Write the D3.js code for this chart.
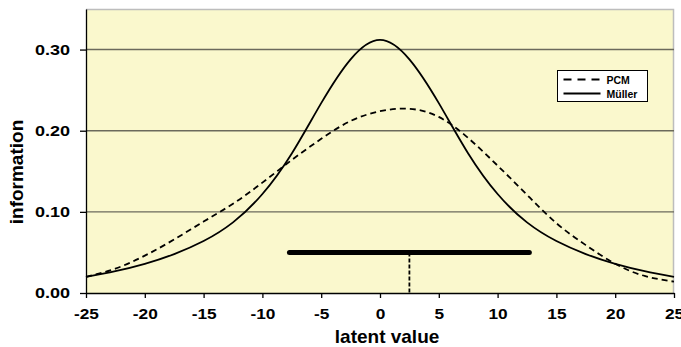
<!DOCTYPE html>
<html>
<head>
<meta charset="utf-8">
<script src="https://cdn.jsdelivr.net/npm/d3@7"></script>
<style>
    body { margin: 0; background: #fff; }
    svg { display: block; font-family: "Liberation Sans", Arial, sans-serif; font-weight: bold; }
</style>
</head>
<body>
<svg id="chart" width="681" height="347"></svg>
<script>
const latentX = [-25, -22.5, -20, -17.5, -15, -12.5, -10, -7.5, -5, -2.5, 0,
    2.5, 5, 7.5, 10, 12.5, 15, 17.5, 20, 22.5, 25];

// information curves
const pcmInfo = [0.020, 0.030, 0.046, 0.066, 0.088, 0.110, 0.136, 0.164, 0.190, 0.212, 0.224,
    0.227, 0.217, 0.191, 0.157, 0.121, 0.086, 0.059, 0.036, 0.021, 0.014];
const mullerInfo = [0.020, 0.027, 0.036, 0.048, 0.064, 0.087, 0.122, 0.172, 0.234, 0.288, 0.312,
    0.288, 0.234, 0.172, 0.122, 0.087, 0.064, 0.048, 0.036, 0.027, 0.020];

// range bar and its marker
const barRange = [-7.7, 12.7];
const barLevel = 0.05;
const markerX = 2.5;

const xTicks = [-25, -20, -15, -10, -5, 0, 5, 10, 15, 20, 25];
const yTicks = [0, 0.1, 0.2, 0.3];
const legendNames = ["PCM", "Müller"];

const margin = { top: 9, right: 7, bottom: 54, left: 86 },
    width = 681 - margin.left - margin.right,
    height = 347 - margin.top - margin.bottom;

const svg = d3.select("#chart");
const g = svg.append("g")
    .attr("transform", "translate(" + margin.left + "," + margin.top + ")");

const x = d3.scaleLinear().domain([-25, 25]).range([0, width]);
const y = d3.scaleLinear().domain([0, 0.35]).range([height, 0]);

// plot area
g.append("rect")
    .attr("width", width)
    .attr("height", height)
    .attr("fill", "#faf8cd");

// top and right border
g.append("path")
    .attr("d", "M0,0.5H" + (width - 0.5) + "V" + height)
    .attr("fill", "none")
    .attr("stroke", "#bdbdbd")
    .attr("stroke-width", 1.5);

// gridlines
g.selectAll(".grid")
    .data(yTicks.filter(d => d > 0))
    .enter().append("line")
    .attr("class", "grid")
    .attr("x1", 0).attr("x2", width)
    .attr("y1", d => y(d)).attr("y2", d => y(d))
    .attr("stroke", "#6b6a5c")
    .attr("stroke-width", 1.4);

// stretch tick labels a bit wider like the original
function widen(sel, k) {
    sel.each(function () {
        const w = this.getComputedTextLength();
        d3.select(this).attr("textLength", w * k).attr("lengthAdjust", "spacingAndGlyphs");
    });
}

const yAxis = g.append("g")
    .call(d3.axisLeft(y).tickValues(yTicks).tickFormat(d3.format(".2f")).tickSize(6).tickPadding(10).tickSizeOuter(0));
yAxis.selectAll(".tick text")
    .attr("font-size", 15).attr("font-weight", "bold").attr("font-family", "Liberation Sans, Arial, sans-serif")
    .attr("fill", "#000")
    .call(widen, 1.2);
yAxis.selectAll("line, .domain").attr("stroke", "#000").attr("stroke-width", 1.3);

const xAxis = g.append("g")
    .attr("transform", "translate(0," + height + ")")
    .call(d3.axisBottom(x).tickValues(xTicks).tickFormat(d => String(d)).tickSize(5).tickPadding(10).tickSizeOuter(0));
xAxis.selectAll(".tick text")
    .attr("font-size", 15).attr("font-weight", "bold").attr("font-family", "Liberation Sans, Arial, sans-serif")
    .attr("fill", "#000")
    .call(widen, 1.15);
xAxis.selectAll("line, .domain").attr("stroke", "#000").attr("stroke-width", 1.3);

// axis titles
g.append("text")
    .attr("x", x(0.6))
    .attr("y", height + 50)
    .attr("text-anchor", "middle")
    .attr("font-size", 19)
    .text("latent value");

g.append("text")
    .attr("transform", "translate(" + (23 - margin.left) + "," + (172 - margin.top) + ") rotate(-90)")
    .attr("text-anchor", "middle")
    .attr("font-size", 19)
    .text("information");

// curves
const line = d3.line()
    .x(d => x(d[0]))
    .y(d => y(d[1]))
    .curve(d3.curveNatural);

g.append("path")
    .datum(latentX.map((v, i) => [v, pcmInfo[i]]))
    .attr("d", line)
    .attr("fill", "none")
    .attr("stroke", "#000")
    .attr("stroke-width", 1.8)
    .attr("stroke-dasharray", "6,4");

g.append("path")
    .datum(latentX.map((v, i) => [v, mullerInfo[i]]))
    .attr("d", line)
    .attr("fill", "none")
    .attr("stroke", "#000")
    .attr("stroke-width", 1.8);

// range bar
g.append("line")
    .attr("x1", x(barRange[0])).attr("x2", x(barRange[1]))
    .attr("y1", y(barLevel)).attr("y2", y(barLevel))
    .attr("stroke", "#000")
    .attr("stroke-width", 5)
    .attr("stroke-linecap", "round");

g.append("line")
    .attr("x1", x(markerX)).attr("x2", x(markerX))
    .attr("y1", y(barLevel)).attr("y2", y(0))
    .attr("stroke", "#000")
    .attr("stroke-width", 1.8)
    .attr("stroke-dasharray", "4,2");

// legend
const legend = svg.append("g").attr("transform", "translate(557.5,70.5)");
legend.append("rect")
    .attr("width", 90).attr("height", 31)
    .attr("fill", "#fff").attr("stroke", "#000").attr("stroke-width", 1);

legendNames.forEach((name, i) => {
    const ly = 9 + i * 14;
    legend.append("line")
        .attr("x1", 6).attr("x2", 43)
        .attr("y1", ly).attr("y2", ly)
        .attr("stroke", "#000")
        .attr("stroke-width", 1.8)
        .attr("stroke-dasharray", i === 0 ? "8,6" : null);
    legend.append("text")
        .attr("x", 49)
        .attr("y", ly + 4)
        .attr("font-size", 10.5)
        .text(name);
});
</script>
</body>
</html>
